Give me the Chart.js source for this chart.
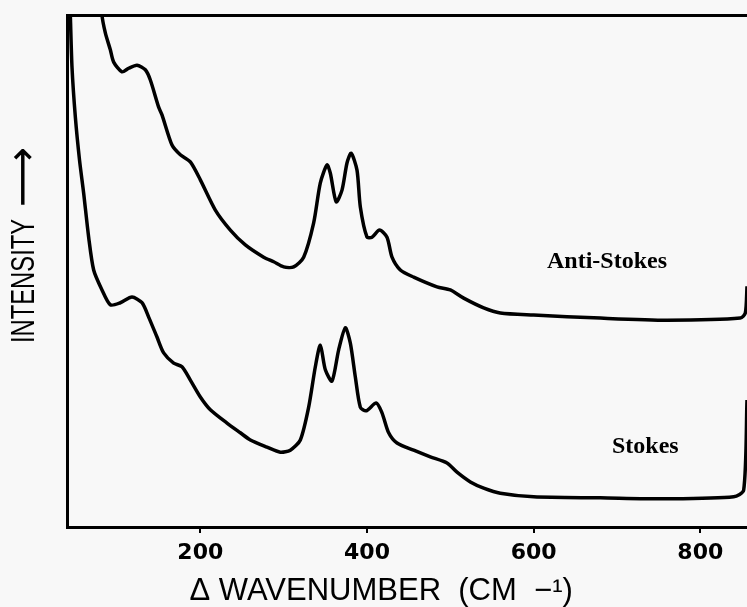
<!DOCTYPE html>
<html>
<head>
<meta charset="utf-8">
<script src="https://cdn.jsdelivr.net/npm/chart.js@4"></script>
<style>
  html, body { margin: 0; padding: 0; background: #f8f8f8; }
  #wrap { width: 747px; height: 607px; }
</style>
</head>
<body>
<div id="wrap"><canvas id="grafico"></canvas></div>
<script>
// valores (x = cm-1, y = intensidad relativa 0-100)
const antiX = [78, 82, 86, 92, 96, 106, 114, 124, 134, 140, 150, 154, 166, 176, 188, 200, 218, 236, 254, 276, 288, 300, 312, 324, 336, 344, 352, 356, 363, 370, 376, 381, 388, 392, 400, 406, 415, 424, 430, 440, 456, 484, 500, 516, 540, 560, 600, 680, 760, 848, 854, 856];
const antiY = [115, 100, 96.5, 93.2, 90.8, 88.9, 89.6, 90.2, 89.3, 87.3, 82.0, 80.5, 74.6, 72.7, 71.3, 67.8, 61.9, 58.0, 55.1, 52.7, 51.8, 50.8, 50.8, 52.7, 59.4, 67.2, 70.7, 69.1, 63.5, 65.8, 71.1, 73.0, 69.7, 62.5, 56.6, 56.6, 58.0, 56.6, 52.7, 50.2, 48.8, 46.9, 46.3, 44.7, 42.8, 41.8, 41.4, 40.8, 40.4, 40.8, 41.8, 47];

const stokesX = [43, 44, 46, 50, 55, 60, 66, 72, 82, 92, 104, 118, 130, 138, 148, 156, 168, 178, 188, 200, 212, 232, 248, 260, 280, 296, 308, 320, 330, 338, 344, 350, 358, 366, 374, 380, 386, 392, 399, 411, 418, 426, 436, 456, 476, 496, 508, 524, 540, 560, 600, 680, 760, 840, 852, 856];
const stokesY = [105, 100, 89.8, 80.1, 71.7, 65.2, 56.6, 50.2, 46.3, 43.4, 43.8, 44.9, 43.8, 41.0, 37.1, 34.0, 32.0, 31.3, 28.7, 25.4, 22.9, 20.3, 18.4, 17.0, 15.6, 14.6, 15.0, 17.0, 23.4, 31.3, 35.5, 30.7, 28.5, 34.6, 38.9, 35.9, 29.3, 23.4, 22.7, 24.2, 22.3, 18.4, 16.4, 15.0, 13.7, 12.5, 10.7, 8.8, 7.6, 6.6, 5.9, 5.7, 5.5, 5.9, 7.2, 24.8];

const xTicks = [200, 400, 600, 800];

// etiquetas de cada curva: [texto, x, y]
const etiquetas = [
  ['Anti-Stokes', 688, 51.8],
  ['Stokes', 734, 15.6]
];

const aPuntos = (xs, ys) => xs.map((x, i) => ({ x, y: ys[i] }));

const textosPlugin = {
  id: 'textos',
  afterDraw(chart) {
    const { ctx, scales } = chart;
    ctx.save();
    ctx.fillStyle = '#000';
    // nombres de las curvas
    ctx.font = 'bold 24px "Liberation Serif", serif';
    ctx.textAlign = 'center';
    ctx.textBaseline = 'middle';
    etiquetas.forEach(([txt, x, y]) => {
      ctx.fillText(txt, scales.x.getPixelForValue(x), scales.y.getPixelForValue(y));
    });
    // titulo del eje y, letra angosta como en el original
    ctx.translate(25, 343);
    ctx.rotate(-Math.PI / 2);
    ctx.textAlign = 'left';
    ctx.save();
    ctx.scale(0.72, 1);
    ctx.font = '33px "Liberation Sans", sans-serif';
    ctx.fillText('INTENSITY', 0, 0);
    ctx.restore();
    ctx.font = '42px "DejaVu Sans", sans-serif';
    ctx.fillText('\u27F6', 136, 0);
    ctx.restore();
  }
};

const serie = (data) => ({
  data,
  borderColor: '#000',
  borderWidth: 3.5,
  pointRadius: 0,
  tension: 0.25,
  fill: false
});

new Chart(document.getElementById('grafico'), {
  type: 'line',
  data: {
    datasets: [serie(aPuntos(antiX, antiY)), serie(aPuntos(stokesX, stokesY))]
  },
  options: {
    responsive: true,
    maintainAspectRatio: false,
    animation: false,
    plugins: { legend: { display: false }, tooltip: { enabled: false } },
    scales: {
      x: {
        type: 'linear',
        min: 40,
        max: 856,
        afterBuildTicks: (s) => { s.ticks = xTicks.map(v => ({ value: v })); },
        afterFit: (s) => { s.height = 80; },
        border: { display: true, color: '#000', width: 3 },
        grid: { display: true, drawOnChartArea: false, tickLength: 6, color: '#000', lineWidth: 2 },
        ticks: {
          color: '#000',
          padding: 7,
          font: { family: '"DejaVu Sans", sans-serif', size: 22, weight: 'bold' },
          callback: (v) => v
        },
        title: {
          display: true,
          text: '\u0394 WAVENUMBER \u00A0(CM \u00A0\u2212\u00B9)\u00A0\u00A0\u00A0\u00A0\u00A0\u00A0',
          color: '#000',
          padding: { top: 0, bottom: 0 },
          font: { family: '"Liberation Sans", sans-serif', size: 31, lineHeight: 1 }
        }
      },
      xTop: {
        type: 'linear',
        position: 'top',
        min: 40,
        max: 856,
        afterFit: (s) => { s.height = 15; },
        border: { display: true, color: '#000', width: 3 },
        grid: { display: false },
        ticks: { display: false }
      },
      y: {
        min: 0,
        max: 100,
        afterFit: (s) => { s.width = 67; },
        border: { display: true, color: '#000', width: 3 },
        grid: { display: false },
        ticks: { display: false }
      }
    }
  },
  plugins: [textosPlugin]
});
</script>
</body>
</html>
